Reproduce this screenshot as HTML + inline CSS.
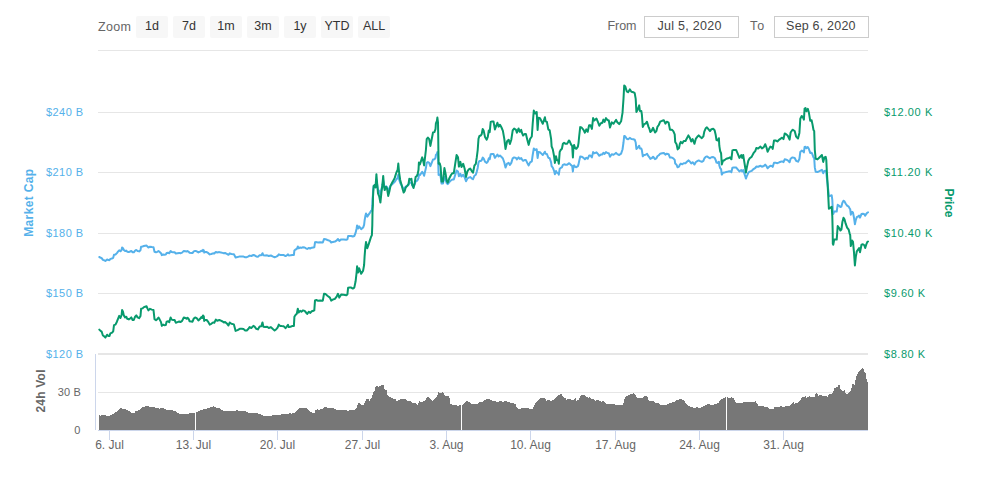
<!DOCTYPE html>
<html><head><meta charset="utf-8"><style>
html,body{margin:0;padding:0;background:#fff;}
body{width:996px;height:479px;overflow:hidden;}
svg{display:block;font-family:"Liberation Sans", sans-serif;}
</style></head><body>
<svg width="996" height="479" viewBox="0 0 996 479">
<rect width="996" height="479" fill="#fff"/>
<rect x="98" y="50" width="770" height="1" fill="#e6e6e6"/>
<text x="98" y="30.9" font-size="12.5" fill="#666" text-anchor="start" font-weight="normal" textLength="33" lengthAdjust="spacing">Zoom</text>
<rect x="136" y="16" width="32" height="22" rx="2" fill="#f7f7f7"/>
<text x="152" y="30" font-size="12.5" fill="#333" text-anchor="middle" font-weight="normal">1d</text>
<rect x="173" y="16" width="32" height="22" rx="2" fill="#f7f7f7"/>
<text x="189" y="30" font-size="12.5" fill="#333" text-anchor="middle" font-weight="normal">7d</text>
<rect x="210" y="16" width="32" height="22" rx="2" fill="#f7f7f7"/>
<text x="226" y="30" font-size="12.5" fill="#333" text-anchor="middle" font-weight="normal">1m</text>
<rect x="247" y="16" width="32" height="22" rx="2" fill="#f7f7f7"/>
<text x="263" y="30" font-size="12.5" fill="#333" text-anchor="middle" font-weight="normal">3m</text>
<rect x="284" y="16" width="32" height="22" rx="2" fill="#f7f7f7"/>
<text x="300" y="30" font-size="12.5" fill="#333" text-anchor="middle" font-weight="normal">1y</text>
<rect x="321" y="16" width="32" height="22" rx="2" fill="#f7f7f7"/>
<text x="337" y="30" font-size="12.5" fill="#333" text-anchor="middle" font-weight="normal">YTD</text>
<rect x="358" y="16" width="32" height="22" rx="2" fill="#f7f7f7"/>
<text x="374" y="30" font-size="12.5" fill="#333" text-anchor="middle" font-weight="normal">ALL</text>
<text x="607.6" y="29.8" font-size="12.5" fill="#666" text-anchor="start" font-weight="normal" textLength="28.8" lengthAdjust="spacing">From</text>
<rect x="644.5" y="16.5" width="94" height="21" fill="#fff" stroke="#cccccc" stroke-width="1"/>
<text x="657.5" y="29.7" font-size="12.5" fill="#444" text-anchor="start" font-weight="normal" textLength="64" lengthAdjust="spacing">Jul 5, 2020</text>
<text x="750.1" y="29.8" font-size="12.5" fill="#666" text-anchor="start" font-weight="normal" textLength="14.1" lengthAdjust="spacing">To</text>
<rect x="774.5" y="16.5" width="94" height="21" fill="#fff" stroke="#cccccc" stroke-width="1"/>
<text x="786.1" y="29.7" font-size="12.5" fill="#444" text-anchor="start" font-weight="normal" textLength="69.4" lengthAdjust="spacing">Sep 6, 2020</text>
<rect x="98" y="112" width="770" height="1" fill="#e6e6e6"/>
<rect x="98" y="172" width="770" height="1" fill="#e6e6e6"/>
<rect x="98" y="233" width="770" height="1" fill="#e6e6e6"/>
<rect x="98" y="293" width="770" height="1" fill="#e6e6e6"/>
<rect x="98" y="353" width="770" height="1" fill="#e6e6e6"/>
<rect x="98" y="354" width="770" height="1" fill="#e6e6e6"/>
<rect x="98" y="392" width="770" height="1" fill="#e6e6e6"/>
<text x="83" y="116" font-size="11" fill="#55b1ea" text-anchor="end" font-weight="normal" textLength="37" lengthAdjust="spacing">$240 B</text>
<text x="83" y="176" font-size="11" fill="#55b1ea" text-anchor="end" font-weight="normal" textLength="37" lengthAdjust="spacing">$210 B</text>
<text x="83" y="237" font-size="11" fill="#55b1ea" text-anchor="end" font-weight="normal" textLength="37" lengthAdjust="spacing">$180 B</text>
<text x="83" y="297" font-size="11" fill="#55b1ea" text-anchor="end" font-weight="normal" textLength="37" lengthAdjust="spacing">$150 B</text>
<text x="83" y="357.6" font-size="11" fill="#55b1ea" text-anchor="end" font-weight="normal" textLength="37" lengthAdjust="spacing">$120 B</text>
<text x="884" y="116" font-size="11" fill="#089a6d" text-anchor="start" font-weight="normal" textLength="48.3" lengthAdjust="spacing">$12.00 K</text>
<text x="884" y="176" font-size="11" fill="#089a6d" text-anchor="start" font-weight="normal" textLength="48.3" lengthAdjust="spacing">$11.20 K</text>
<text x="884" y="237" font-size="11" fill="#089a6d" text-anchor="start" font-weight="normal" textLength="48.3" lengthAdjust="spacing">$10.40 K</text>
<text x="884" y="297" font-size="11" fill="#089a6d" text-anchor="start" font-weight="normal" textLength="41.2" lengthAdjust="spacing">$9.60 K</text>
<text x="884" y="357.6" font-size="11" fill="#089a6d" text-anchor="start" font-weight="normal" textLength="41.2" lengthAdjust="spacing">$8.80 K</text>
<text x="80.8" y="396" font-size="11" fill="#666" text-anchor="end" font-weight="normal" textLength="23" lengthAdjust="spacing">30 B</text>
<text x="80.4" y="434" font-size="11" fill="#666" text-anchor="end" font-weight="normal">0</text>
<text transform="translate(32.6 202.8) rotate(-90)" font-size="12" font-weight="bold" fill="#55b1ea" text-anchor="middle" textLength="68" lengthAdjust="spacing">Market Cap</text>
<text transform="translate(945 203) rotate(90)" font-size="12" font-weight="bold" fill="#089a6d" text-anchor="middle" textLength="29" lengthAdjust="spacing">Price</text>
<text transform="translate(45 391) rotate(-90)" font-size="12" font-weight="bold" fill="#666" text-anchor="middle" textLength="43" lengthAdjust="spacing">24h Vol</text>
<path d="M99.0 430.0 L99.0 415.1 L100.5 415.6 L102.0 415.3 L108.1 415.6 L109.1 416.1 L111.1 414.6 L113.6 414.1 L114.6 412.6 L117.1 411.6 L120.1 408.1 L122.1 408.6 L125.1 408.6 L126.6 410.1 L128.6 410.6 L131.1 413.1 L134.2 413.1 L135.7 411.1 L139.2 410.1 L142.2 407.2 L145.2 406.5 L148.2 406.2 L150.2 407.0 L153.2 407.0 L156.2 407.9 L159.3 408.6 L161.3 408.3 L165.3 408.6 L166.3 410.1 L172.3 410.3 L175.3 411.3 L178.3 413.3 L179.3 414.1 L188.9 414.1 L189.9 413.1 L194.5 413.3 L196.2 412.1 L199.0 411.1 L201.0 410.1 L205.1 409.1 L209.1 408.1 L211.1 407.1 L213.6 406.3 L216.1 407.6 L220.1 408.3 L222.1 410.1 L224.6 411.1 L235.2 410.6 L237.2 410.1 L239.7 411.1 L246.2 411.3 L248.2 413.1 L257.3 413.3 L260.3 414.1 L264.3 416.3 L267.3 415.6 L269.3 416.3 L271.3 415.6 L273.3 415.3 L280.4 414.6 L282.4 414.1 L285.0 414.1 L289.0 413.6 L290.0 412.9 L291.5 413.6 L292.5 413.1 L295.0 412.6 L299.1 408.3 L306.6 408.3 L308.6 409.9 L312.1 412.9 L314.6 413.1 L315.6 410.1 L317.1 409.3 L318.6 409.9 L320.6 409.3 L322.7 409.1 L324.7 407.1 L326.2 406.3 L327.2 408.1 L334.2 408.3 L336.2 409.9 L346.2 410.1 L348.3 411.1 L350.3 410.1 L354.3 410.1 L356.8 408.1 L357.8 403.6 L359.3 402.3 L361.3 404.6 L363.3 405.1 L365.3 401.1 L366.8 399.1 L368.3 398.1 L369.3 401.1 L371.3 398.1 L372.9 393.6 L374.9 390.0 L375.9 385.5 L376.9 385.5 L378.4 387.0 L379.9 386.0 L381.5 385.0 L383.5 385.0 L384.2 389.1 L386.5 390.1 L387.0 395.1 L389.0 396.6 L392.0 398.3 L395.6 399.3 L396.6 400.9 L398.1 400.3 L401.6 399.1 L403.6 399.3 L406.1 399.1 L407.1 401.3 L410.1 401.1 L411.1 402.1 L416.1 403.6 L417.7 405.1 L419.2 401.3 L421.2 402.1 L424.2 401.3 L427.2 397.3 L429.7 397.6 L432.2 401.1 L434.2 399.1 L437.2 396.3 L438.2 392.3 L440.2 393.1 L442.8 392.3 L445.3 395.6 L449.3 396.6 L450.3 404.1 L454.3 405.1 L456.3 405.1 L457.8 406.1 L460.3 405.1 L462.3 404.9 L465.3 402.1 L466.8 401.3 L468.9 401.6 L470.4 403.1 L472.4 404.1 L476.4 404.1 L477.9 403.3 L480.0 401.1 L481.0 402.3 L483.0 401.6 L484.5 400.1 L486.5 399.1 L489.6 399.3 L491.6 400.1 L493.1 401.6 L495.1 401.1 L497.1 401.9 L500.1 401.3 L503.6 401.6 L506.1 401.3 L509.1 402.3 L512.1 403.6 L513.7 403.1 L515.7 404.6 L517.2 408.1 L518.7 409.1 L521.2 408.3 L527.2 408.3 L528.2 407.1 L529.2 409.1 L532.7 409.1 L534.7 404.1 L537.2 401.1 L540.3 398.1 L543.3 398.3 L545.3 398.1 L546.3 401.1 L548.3 400.1 L551.3 401.1 L553.3 400.1 L555.3 399.1 L555.8 397.1 L558.3 395.6 L561.3 394.1 L562.9 396.6 L565.4 398.1 L566.6 400.1 L567.9 399.1 L570.9 399.3 L572.9 400.1 L574.5 399.1 L575.5 398.1 L576.5 401.1 L578.5 399.6 L580.0 396.6 L581.5 395.3 L584.6 395.3 L586.6 396.6 L588.6 398.1 L590.1 397.1 L591.6 399.6 L593.6 399.1 L595.6 400.6 L597.6 400.1 L599.1 400.6 L601.1 401.6 L604.1 401.1 L605.1 402.6 L607.1 404.1 L614.2 404.1 L615.7 405.1 L622.7 405.1 L623.7 402.6 L624.7 398.1 L625.7 396.3 L628.2 395.6 L631.2 393.9 L634.3 393.3 L635.3 395.1 L636.8 398.1 L639.3 397.6 L642.3 398.3 L644.3 396.3 L647.3 396.3 L648.3 400.1 L650.3 401.1 L653.3 400.6 L655.3 402.6 L658.4 403.3 L660.9 405.1 L666.4 405.1 L667.9 404.1 L670.5 403.1 L672.5 402.1 L674.5 402.1 L677.0 400.1 L680.6 399.1 L683.6 400.1 L685.1 402.3 L688.6 405.6 L691.6 407.3 L695.1 407.9 L696.6 407.1 L700.1 408.1 L702.1 407.1 L705.2 405.1 L708.7 404.1 L712.2 404.9 L715.2 404.1 L718.2 403.3 L719.7 400.6 L723.2 398.1 L725.2 397.3 L727.2 397.3 L730.3 398.1 L731.8 397.3 L733.8 398.6 L735.3 402.1 L737.3 403.1 L742.3 403.1 L744.3 402.1 L750.3 401.6 L753.4 402.3 L755.4 401.3 L756.9 403.1 L758.9 406.1 L764.2 406.3 L765.0 407.1 L768.4 407.4 L770.0 409.1 L773.8 409.1 L775.0 406.3 L776.3 406.9 L780.0 406.6 L781.3 406.1 L783.4 406.9 L785.1 406.3 L789.6 406.1 L791.3 404.2 L793.4 402.1 L794.2 403.8 L795.5 403.2 L797.6 403.0 L799.7 400.9 L801.3 398.5 L803.0 396.3 L804.3 397.5 L805.5 396.3 L806.3 398.0 L808.0 397.1 L809.7 396.3 L810.9 397.1 L812.2 396.7 L815.1 397.1 L815.5 394.2 L816.8 393.2 L817.6 393.8 L818.0 395.9 L819.3 395.2 L821.8 395.4 L823.9 396.3 L826.8 396.3 L827.2 398.8 L828.1 395.0 L829.7 394.2 L831.7 393.8 L833.3 391.3 L834.2 388.4 L836.3 387.1 L837.9 386.7 L838.4 385.1 L839.6 385.1 L840.0 390.1 L841.0 388.4 L841.7 390.9 L843.4 391.3 L844.4 390.1 L845.0 392.2 L846.7 393.8 L848.0 393.4 L850.0 391.3 L851.3 389.6 L852.1 384.2 L853.8 384.2 L854.6 385.1 L855.5 380.0 L856.3 376.7 L857.6 374.2 L858.8 371.7 L860.9 369.2 L862.6 367.9 L863.8 370.0 L864.7 372.5 L865.7 373.4 L866.3 378.0 L867.2 381.7 L868.0 382.1 L868.0 430.0 Z" fill="#777777" shape-rendering="crispEdges"/>
<rect x="195" y="394" width="1" height="36" fill="#fff"/>
<rect x="461" y="394" width="1" height="36" fill="#fff"/>
<rect x="726" y="394" width="1" height="36" fill="#fff"/>
<rect x="95" y="354" width="1" height="76" fill="#ccd6eb"/>
<rect x="98" y="430" width="770" height="1" fill="#ccd6eb"/>
<rect x="109" y="431" width="1" height="9" fill="#ccd6eb"/>
<text x="109.5" y="449.1" font-size="12" fill="#666" text-anchor="middle" font-weight="normal">6. Jul</text>
<rect x="193" y="431" width="1" height="9" fill="#ccd6eb"/>
<text x="193.5" y="449.1" font-size="12" fill="#666" text-anchor="middle" font-weight="normal">13. Jul</text>
<rect x="277" y="431" width="1" height="9" fill="#ccd6eb"/>
<text x="277.5" y="449.1" font-size="12" fill="#666" text-anchor="middle" font-weight="normal">20. Jul</text>
<rect x="362" y="431" width="1" height="9" fill="#ccd6eb"/>
<text x="362.5" y="449.1" font-size="12" fill="#666" text-anchor="middle" font-weight="normal">27. Jul</text>
<rect x="446" y="431" width="1" height="9" fill="#ccd6eb"/>
<text x="446.5" y="449.1" font-size="12" fill="#666" text-anchor="middle" font-weight="normal">3. Aug</text>
<rect x="530" y="431" width="1" height="9" fill="#ccd6eb"/>
<text x="530.5" y="449.1" font-size="12" fill="#666" text-anchor="middle" font-weight="normal">10. Aug</text>
<rect x="615" y="431" width="1" height="9" fill="#ccd6eb"/>
<text x="615.5" y="449.1" font-size="12" fill="#666" text-anchor="middle" font-weight="normal">17. Aug</text>
<rect x="699" y="431" width="1" height="9" fill="#ccd6eb"/>
<text x="699.5" y="449.1" font-size="12" fill="#666" text-anchor="middle" font-weight="normal">24. Aug</text>
<rect x="783" y="431" width="1" height="9" fill="#ccd6eb"/>
<text x="783.5" y="449.1" font-size="12" fill="#666" text-anchor="middle" font-weight="normal">31. Aug</text>
<path d="M99.3 257.0 L100.8 257.8 L101.7 258.1 L102.9 259.9 L104.2 260.3 L105.4 261.0 L107.1 259.5 L108.4 260.1 L109.4 260.2 L110.4 258.9 L112.1 258.5 L113.2 257.8 L114.0 254.8 L115.5 254.5 L116.9 253.1 L118.0 251.7 L119.2 250.3 L120.5 251.3 L121.6 249.8 L122.1 247.4 L123.0 248.2 L123.8 250.0 L125.1 251.0 L126.3 250.6 L127.2 251.7 L128.8 252.0 L130.1 251.5 L131.3 251.0 L132.6 252.3 L133.8 252.3 L135.1 250.6 L136.3 250.0 L137.6 251.0 L139.1 251.4 L140.5 250.2 L141.1 246.7 L142.6 246.5 L143.9 245.9 L145.1 245.7 L146.6 245.5 L147.4 246.5 L148.4 247.5 L150.0 246.7 L151.8 247.1 L153.5 247.3 L154.5 251.8 L156.0 252.3 L157.2 251.8 L158.5 251.0 L159.7 252.0 L161.0 253.2 L161.8 255.1 L163.1 254.5 L164.3 254.8 L165.8 254.6 L166.6 253.0 L168.1 252.8 L169.3 253.2 L170.6 251.0 L171.7 252.0 L173.1 252.2 L174.6 252.2 L175.8 253.5 L177.5 253.2 L179.2 252.9 L180.4 253.2 L182.1 252.6 L183.8 250.9 L185.4 251.2 L186.7 251.6 L187.5 251.0 L188.8 251.8 L189.6 252.8 L191.3 252.9 L192.5 253.0 L193.8 251.4 L195.1 250.9 L196.7 251.3 L198.4 252.4 L200.1 251.6 L201.3 250.7 L202.2 251.2 L203.0 249.9 L203.8 250.3 L204.2 252.6 L205.1 252.1 L206.7 252.1 L208.4 253.2 L209.7 254.4 L211.3 254.0 L213.0 253.3 L214.3 253.5 L215.8 251.9 L217.2 252.5 L219.3 252.1 L220.9 252.5 L222.6 252.9 L223.9 253.3 L225.1 253.0 L226.8 253.8 L228.5 254.8 L229.7 253.3 L231.4 254.0 L233.9 254.3 L234.7 255.8 L235.6 257.5 L237.6 257.1 L239.7 256.4 L241.8 256.4 L243.5 256.6 L245.2 257.2 L246.8 257.2 L248.5 256.4 L249.6 255.6 L251.3 256.0 L253.4 255.0 L254.6 255.3 L256.3 256.4 L257.9 256.7 L259.6 255.3 L261.3 255.2 L262.5 253.2 L263.4 255.3 L265.0 255.4 L267.1 255.3 L268.8 256.0 L270.9 255.5 L272.6 256.4 L274.6 257.2 L276.3 256.6 L277.6 255.8 L278.8 254.3 L280.1 254.9 L281.7 255.0 L283.8 255.1 L285.5 256.1 L286.8 255.3 L288.0 254.4 L288.8 255.5 L290.5 255.3 L292.6 254.9 L293.9 254.9 L294.4 250.4 L295.5 249.5 L296.8 249.0 L297.8 246.5 L298.6 248.3 L300.1 247.5 L301.4 247.9 L303.0 247.3 L304.7 247.5 L306.0 248.3 L307.2 249.0 L308.9 247.9 L310.1 248.5 L311.8 247.7 L313.5 247.4 L314.3 247.3 L315.0 242.3 L316.4 242.1 L318.1 242.5 L320.2 242.3 L322.8 242.5 L324.0 239.1 L325.5 239.2 L327.4 240.0 L329.9 240.9 L331.2 242.5 L333.0 241.9 L334.9 241.6 L336.8 240.3 L338.0 239.0 L339.3 240.9 L341.2 239.4 L343.7 239.5 L346.2 239.8 L347.4 239.4 L348.1 236.1 L349.9 236.0 L351.2 236.0 L352.8 236.5 L354.3 236.0 L355.6 232.9 L356.6 228.5 L357.1 225.5 L358.1 228.5 L359.1 226.4 L361.2 229.2 L363.1 227.6 L364.1 224.8 L364.6 220.5 L365.3 216.3 L366.0 213.5 L367.3 216.6 L368.8 214.4 L370.0 212.6 L371.0 211.0 L371.9 210.1 L372.3 205.2 L372.5 199.0 L372.9 195.3 L373.0 191.2 L373.7 185.9 L374.7 185.4 L375.5 186.7 L376.4 180.1 L377.2 185.0 L378.0 189.6 L379.3 191.2 L380.4 194.1 L381.4 189.2 L382.4 185.4 L383.2 181.0 L384.0 185.9 L384.7 187.9 L386.0 186.3 L387.0 187.1 L388.2 190.8 L389.3 188.7 L390.5 185.9 L392.2 184.2 L393.5 183.1 L394.7 181.9 L396.4 179.3 L397.6 178.0 L398.3 174.8 L399.1 179.2 L400.2 182.9 L401.4 185.0 L402.7 187.5 L403.7 189.1 L404.7 188.3 L405.7 186.6 L407.2 185.8 L408.5 185.0 L409.3 182.3 L410.6 182.7 L411.4 182.3 L412.3 185.4 L413.5 186.8 L414.8 184.1 L415.6 181.5 L416.9 180.9 L417.7 179.9 L418.5 178.0 L418.9 174.3 L419.9 175.2 L422.2 171.8 L423.2 173.4 L424.1 175.7 L425.9 168.1 L426.7 162.8 L427.9 162.0 L429.2 162.8 L430.4 166.1 L431.7 162.8 L433.0 159.5 L434.4 159.3 L435.5 157.9 L435.9 155.0 L436.9 153.8 L437.4 152.1 L438.0 154.6 L438.2 160.7 L438.4 168.1 L438.6 174.9 L439.7 174.6 L440.6 176.3 L441.6 183.6 L443.0 183.6 L444.4 176.9 L445.5 179.5 L446.7 183.2 L447.7 184.1 L449.1 182.3 L451.0 180.4 L452.4 179.5 L453.8 179.5 L455.2 174.9 L456.6 170.5 L458.0 171.6 L458.9 176.2 L460.4 173.9 L461.5 176.5 L463.2 174.8 L464.6 177.2 L466.0 181.3 L467.4 178.5 L468.8 177.6 L470.2 177.1 L471.6 178.3 L473.0 179.2 L474.4 175.8 L475.8 174.8 L476.8 171.6 L477.7 168.0 L478.5 162.5 L479.4 161.1 L480.8 160.9 L481.7 160.2 L482.7 157.6 L483.6 158.4 L485.0 161.6 L486.7 162.9 L487.8 161.6 L488.8 158.3 L489.7 159.2 L490.7 154.2 L492.1 153.9 L493.5 153.9 L494.9 157.8 L496.3 156.0 L497.4 154.6 L498.6 156.5 L500.0 155.5 L501.5 156.9 L502.9 158.5 L504.3 162.5 L505.5 167.5 L507.1 163.6 L508.7 162.9 L509.9 165.0 L511.3 162.9 L512.7 158.3 L514.1 157.4 L516.0 158.0 L516.9 159.4 L518.6 157.4 L519.8 159.0 L521.2 158.0 L522.1 159.7 L523.1 160.8 L524.5 160.1 L525.9 160.1 L527.3 162.9 L528.7 165.4 L530.1 162.4 L531.8 161.3 L532.7 155.0 L533.8 148.5 L535.3 149.9 L536.7 149.2 L537.6 158.0 L538.5 152.0 L540.0 152.2 L541.4 153.6 L542.8 155.0 L544.9 151.7 L545.6 153.8 L546.9 154.0 L548.3 157.7 L549.7 158.2 L551.1 162.4 L551.6 166.1 L552.8 167.6 L554.1 171.0 L554.9 174.2 L556.0 171.0 L556.9 172.8 L558.2 173.1 L558.8 174.7 L559.7 168.8 L560.7 167.9 L561.9 167.3 L562.9 164.8 L564.1 164.3 L565.7 164.8 L566.9 164.8 L567.9 164.2 L568.9 163.2 L569.7 163.6 L571.0 165.1 L572.2 166.0 L572.9 171.5 L573.5 166.0 L574.1 165.4 L575.1 166.9 L576.3 167.2 L577.9 166.2 L578.5 164.4 L579.2 160.9 L580.2 156.5 L581.6 156.7 L583.5 157.9 L584.9 159.3 L586.3 157.7 L587.7 158.8 L589.1 155.6 L590.5 155.6 L591.9 157.4 L593.1 152.1 L594.3 153.3 L596.5 152.3 L598.1 154.2 L599.3 155.8 L600.9 154.6 L602.3 154.4 L603.4 152.8 L604.6 153.9 L606.0 152.1 L607.4 153.0 L608.8 153.2 L610.0 156.7 L611.7 154.2 L613.5 154.8 L615.0 153.7 L616.1 152.9 L617.3 154.1 L619.2 155.0 L621.1 153.6 L622.5 149.5 L623.5 142.5 L624.2 136.0 L625.3 136.5 L626.7 138.8 L628.1 139.3 L629.8 137.9 L631.4 139.0 L633.3 139.2 L634.7 139.7 L635.7 142.5 L636.4 148.9 L637.5 148.0 L639.2 145.7 L639.9 148.5 L641.3 148.5 L641.9 150.3 L642.8 156.3 L644.2 154.9 L645.6 154.7 L647.0 153.7 L648.5 156.3 L649.4 157.2 L650.3 158.9 L651.7 158.2 L653.1 156.7 L655.0 159.1 L656.4 158.4 L657.4 156.3 L658.8 155.3 L660.2 153.7 L662.1 153.3 L663.9 153.0 L665.4 154.6 L666.8 153.7 L668.6 154.2 L670.0 157.6 L671.9 157.6 L673.3 158.3 L674.7 159.9 L675.2 163.6 L676.6 164.8 L677.6 167.3 L679.0 166.6 L679.9 164.6 L680.8 163.6 L682.3 164.3 L683.7 163.2 L685.5 163.2 L686.9 161.8 L688.4 160.4 L689.8 161.5 L691.2 163.4 L692.6 162.2 L694.5 164.5 L695.9 162.0 L697.3 161.1 L698.7 160.4 L700.1 161.1 L701.8 161.8 L703.4 160.8 L704.3 158.5 L705.7 156.9 L706.9 156.4 L708.4 157.3 L710.0 158.3 L711.4 157.3 L713.2 157.1 L714.6 157.8 L715.6 159.9 L716.5 162.6 L717.9 162.9 L718.9 161.7 L719.3 165.4 L720.2 168.2 L721.1 169.1 L721.8 174.6 L723.0 172.8 L724.4 172.6 L726.3 171.9 L728.1 171.6 L730.0 171.2 L731.4 172.1 L732.4 167.7 L733.8 167.5 L736.1 167.5 L737.5 169.1 L739.4 171.4 L741.3 170.0 L742.2 171.4 L743.2 170.0 L744.1 172.8 L745.2 176.1 L745.9 178.6 L746.7 176.4 L747.3 175.1 L748.3 172.8 L749.7 171.6 L751.6 170.9 L753.5 169.1 L755.4 167.9 L756.3 166.5 L758.2 166.7 L760.5 165.8 L761.9 166.7 L763.8 166.0 L765.2 164.6 L766.5 166.2 L767.6 168.3 L769.0 166.9 L770.4 165.8 L771.8 166.0 L772.7 166.9 L774.0 162.8 L775.6 162.8 L777.4 163.2 L779.3 162.3 L780.7 161.8 L782.1 161.4 L783.5 162.1 L784.7 159.3 L786.4 159.7 L787.8 160.4 L789.6 162.3 L790.6 158.8 L792.5 157.4 L794.7 158.0 L796.1 160.8 L798.0 161.7 L799.4 159.0 L800.3 152.0 L801.7 150.6 L802.7 151.1 L803.9 152.4 L804.6 146.9 L805.5 146.7 L806.4 148.3 L807.8 147.1 L808.8 148.7 L810.2 152.9 L811.6 152.7 L812.5 154.7 L813.5 157.5 L814.2 158.0 L814.8 167.4 L815.7 171.7 L817.5 172.0 L819.4 171.1 L821.9 169.8 L823.2 173.2 L824.4 171.0 L825.7 170.7 L826.3 172.3 L826.9 178.5 L827.6 184.1 L828.2 189.6 L828.9 196.3 L830.4 195.8 L831.7 195.3 L832.3 199.9 L832.7 207.7 L832.8 213.6 L833.3 214.0 L834.2 211.5 L836.7 211.5 L837.7 204.8 L838.8 205.5 L840.4 207.0 L841.4 206.5 L842.4 202.8 L843.5 200.7 L844.5 201.4 L845.6 203.5 L847.1 205.6 L848.7 206.6 L849.7 208.6 L850.2 209.2 L850.8 214.7 L852.1 211.9 L853.0 212.6 L853.9 217.2 L854.9 224.2 L855.8 220.0 L856.8 217.2 L858.2 216.3 L859.1 215.6 L860.0 217.7 L861.5 214.0 L862.9 213.7 L864.3 214.2 L865.2 215.6 L866.2 214.0 L867.4 212.6 L868.0 212.4" fill="none" stroke="#55b1ea" stroke-width="2" stroke-linejoin="round" stroke-linecap="round"/>
<path d="M99.3 329.6 L100.8 331.1 L101.7 331.7 L102.9 335.5 L104.2 336.3 L105.4 337.6 L107.1 334.7 L108.4 335.9 L109.4 336.1 L110.4 333.4 L112.1 332.6 L113.2 331.3 L114.0 325.1 L115.5 324.6 L116.9 321.7 L118.0 318.8 L119.2 315.9 L120.5 318.0 L121.6 315.0 L122.1 310.0 L123.0 311.7 L123.8 315.4 L125.1 317.5 L126.3 316.7 L127.2 318.8 L128.8 319.4 L130.1 318.5 L131.3 317.4 L132.6 320.0 L133.8 320.0 L135.1 316.7 L136.3 315.4 L137.6 317.4 L139.1 318.2 L140.5 315.9 L141.1 308.8 L142.6 308.4 L143.9 307.1 L145.1 306.7 L146.6 306.3 L147.4 308.4 L148.4 310.4 L150.0 308.8 L151.8 309.6 L153.5 310.0 L154.5 319.2 L156.0 320.2 L157.2 319.2 L158.5 317.5 L159.7 319.6 L161.0 322.1 L161.8 325.9 L163.1 324.6 L164.3 325.2 L165.8 324.9 L166.6 321.7 L168.1 321.3 L169.3 322.1 L170.6 317.5 L171.7 319.6 L173.1 320.0 L174.6 320.0 L175.8 322.7 L177.5 322.1 L179.2 321.5 L180.4 322.1 L182.1 320.9 L183.8 317.5 L185.4 318.0 L186.7 318.8 L187.5 317.7 L188.8 319.2 L189.6 321.3 L191.3 321.5 L192.5 321.7 L193.8 318.5 L195.1 317.5 L196.7 318.2 L198.4 320.5 L200.1 318.8 L201.3 317.1 L202.2 318.0 L203.0 315.4 L203.8 316.3 L204.2 320.9 L205.1 320.0 L206.7 320.0 L208.4 322.1 L209.7 324.6 L211.3 323.8 L213.0 322.4 L214.3 322.7 L215.8 319.6 L217.2 320.7 L219.3 320.0 L220.9 320.7 L222.6 321.5 L223.9 322.5 L225.1 321.9 L226.8 323.4 L228.5 325.5 L229.7 322.5 L231.4 323.8 L233.9 324.4 L234.7 327.6 L235.6 330.9 L237.6 330.1 L239.7 328.8 L241.8 328.8 L243.5 329.1 L245.2 330.5 L246.8 330.5 L248.5 328.8 L249.6 327.1 L251.3 328.0 L253.4 325.9 L254.6 326.6 L256.3 328.8 L257.9 329.4 L259.6 326.6 L261.3 326.3 L262.5 322.4 L263.4 326.7 L265.0 326.9 L267.1 326.7 L268.8 328.0 L270.9 327.1 L272.6 328.8 L274.6 330.5 L276.3 329.2 L277.6 327.6 L278.8 324.6 L280.1 325.9 L281.7 326.1 L283.8 326.3 L285.5 328.2 L286.8 326.6 L288.0 324.9 L288.8 327.1 L290.5 326.7 L292.6 325.9 L293.9 325.9 L294.4 316.7 L295.5 315.0 L296.8 313.8 L297.8 308.8 L298.6 312.5 L300.1 310.9 L301.4 311.7 L303.0 310.4 L304.7 310.9 L306.0 312.5 L307.2 314.0 L308.9 311.7 L310.1 312.9 L311.8 311.3 L313.5 310.7 L314.3 310.4 L315.0 300.4 L316.4 300.0 L318.1 300.8 L320.2 300.4 L322.8 300.7 L324.0 293.8 L325.5 294.1 L327.4 295.7 L329.9 297.6 L331.2 300.7 L333.0 299.5 L334.9 298.9 L336.8 296.3 L338.0 293.8 L339.3 297.6 L341.2 294.5 L343.7 294.8 L346.2 295.3 L347.4 294.5 L348.1 287.8 L349.9 287.6 L351.2 287.6 L352.8 288.6 L354.3 287.6 L355.6 281.3 L356.6 272.5 L357.1 266.3 L358.1 272.5 L359.1 268.2 L361.2 273.8 L363.1 270.7 L364.1 265.0 L364.6 256.3 L365.3 247.6 L366.0 242.0 L367.3 248.2 L368.8 243.9 L370.0 240.1 L371.0 237.0 L371.9 235.1 L372.3 225.1 L372.5 212.5 L372.9 205.0 L373.0 196.7 L373.7 185.9 L374.7 185.0 L375.5 187.5 L376.4 174.2 L377.2 184.2 L378.0 193.4 L379.3 196.7 L380.4 202.6 L381.4 192.6 L382.4 185.0 L383.2 175.9 L384.0 185.9 L384.7 190.1 L386.0 186.7 L387.0 188.4 L388.2 195.9 L389.3 191.7 L390.5 185.9 L392.2 182.5 L393.5 180.4 L394.7 177.9 L396.4 172.5 L397.6 170.0 L398.3 163.5 L399.1 172.5 L400.2 180.0 L401.4 184.2 L402.7 189.2 L403.7 192.6 L404.7 190.9 L405.7 187.5 L407.2 185.9 L408.5 184.2 L409.3 178.8 L410.6 179.6 L411.4 178.8 L412.3 185.0 L413.5 188.0 L414.8 182.5 L415.6 177.1 L416.9 175.9 L417.7 173.8 L418.5 170.0 L418.9 162.6 L419.9 164.4 L422.2 157.4 L423.2 160.7 L424.1 165.4 L425.9 150.0 L426.7 139.2 L427.9 137.6 L429.2 139.2 L430.4 145.9 L431.7 139.2 L433.0 132.5 L434.4 132.1 L435.5 129.2 L435.9 123.4 L436.9 120.9 L437.4 117.5 L438.0 122.5 L438.2 135.0 L438.4 150.0 L438.6 163.8 L439.7 163.3 L440.6 166.6 L441.6 181.6 L443.0 181.6 L444.4 168.0 L445.5 173.2 L446.7 180.7 L447.7 182.6 L449.1 178.8 L451.0 175.0 L452.4 173.2 L453.8 173.2 L455.2 163.8 L456.6 154.9 L458.0 157.2 L458.9 166.6 L460.4 161.9 L461.5 167.1 L463.2 163.8 L464.6 168.5 L466.0 176.9 L467.4 171.3 L468.8 169.4 L470.2 168.5 L471.6 170.8 L473.0 172.7 L474.4 165.7 L475.8 163.8 L476.8 157.2 L477.7 150.0 L478.5 138.8 L479.4 136.0 L480.8 135.5 L481.7 134.1 L482.7 128.9 L483.6 130.4 L485.0 136.9 L486.7 139.7 L487.8 136.9 L488.8 130.4 L489.7 132.2 L490.7 121.9 L492.1 121.4 L493.5 121.4 L494.9 129.4 L496.3 125.7 L497.4 122.8 L498.6 126.6 L500.0 124.7 L501.5 127.5 L502.9 130.8 L504.3 138.8 L505.5 149.0 L507.1 141.2 L508.7 139.7 L509.9 144.0 L511.3 139.7 L512.7 130.4 L514.1 128.5 L516.0 129.9 L516.9 132.7 L518.6 128.5 L519.8 131.8 L521.2 129.9 L522.1 133.2 L523.1 135.5 L524.5 134.1 L525.9 134.1 L527.3 139.7 L528.7 144.9 L530.1 138.8 L531.8 136.5 L532.7 123.8 L533.8 110.6 L535.3 113.5 L536.7 112.0 L537.6 129.9 L538.5 117.7 L540.0 118.1 L541.4 121.0 L542.8 123.8 L544.9 117.2 L545.6 121.4 L546.9 121.9 L548.3 129.4 L549.7 130.4 L551.1 138.8 L551.6 146.3 L552.8 149.4 L554.1 156.3 L554.9 162.9 L556.0 156.3 L556.9 160.0 L558.2 160.7 L558.8 163.8 L559.7 151.9 L560.7 150.0 L561.9 148.8 L562.9 143.8 L564.1 142.8 L565.7 143.8 L566.9 143.8 L567.9 142.5 L568.9 140.5 L569.7 141.3 L571.0 144.4 L572.2 146.3 L572.9 157.5 L573.5 146.3 L574.1 145.0 L575.1 148.1 L576.3 148.8 L577.9 146.6 L578.5 143.1 L579.2 136.0 L580.2 127.1 L581.6 127.5 L583.5 129.9 L584.9 132.7 L586.3 129.4 L587.7 131.8 L589.1 125.2 L590.5 125.2 L591.9 128.9 L593.1 118.1 L594.3 120.5 L596.5 118.6 L598.1 122.4 L599.3 125.7 L600.9 123.3 L602.3 122.8 L603.4 119.6 L604.6 121.9 L606.0 118.1 L607.4 120.0 L608.8 120.5 L610.0 127.5 L611.7 122.4 L613.5 123.8 L615.0 121.5 L616.1 119.9 L617.3 122.3 L619.2 124.1 L621.1 121.3 L622.5 112.9 L623.5 98.8 L624.2 85.6 L625.3 86.6 L626.7 91.3 L628.1 92.2 L629.8 89.4 L631.4 91.7 L633.3 92.2 L634.7 93.1 L635.7 98.8 L636.4 111.9 L637.5 110.0 L639.2 105.4 L639.9 111.0 L641.3 111.0 L641.9 114.7 L642.8 126.9 L644.2 124.1 L645.6 123.6 L647.0 121.7 L648.5 126.9 L649.4 128.8 L650.3 132.1 L651.7 130.7 L653.1 127.8 L655.0 132.5 L656.4 131.1 L657.4 126.9 L658.8 125.0 L660.2 121.7 L662.1 120.8 L663.9 120.3 L665.4 123.6 L666.8 121.7 L668.6 122.7 L670.0 129.7 L671.9 129.7 L673.3 131.1 L674.7 134.4 L675.2 141.9 L676.6 144.3 L677.6 149.4 L679.0 148.0 L679.9 143.8 L680.8 141.9 L682.3 143.3 L683.7 141.0 L685.5 141.0 L686.9 138.2 L688.4 135.4 L689.8 137.7 L691.2 141.5 L692.6 139.1 L694.5 143.8 L695.9 138.6 L697.3 136.8 L698.7 135.4 L700.1 136.8 L701.8 138.2 L703.4 136.3 L704.3 131.6 L705.7 128.3 L706.9 127.4 L708.4 129.2 L710.0 131.1 L711.4 129.2 L713.2 128.8 L714.6 130.2 L715.6 134.4 L716.5 140.0 L717.9 140.5 L718.9 138.2 L719.3 145.7 L720.2 151.3 L721.1 153.2 L721.8 164.4 L723.0 160.7 L724.4 160.2 L726.3 158.8 L728.1 158.3 L730.0 157.4 L731.4 159.3 L732.4 150.4 L733.8 149.9 L736.1 149.9 L737.5 153.2 L739.4 157.9 L741.3 155.0 L742.2 157.9 L743.2 155.0 L744.1 160.7 L745.2 167.5 L745.9 172.5 L746.7 168.0 L747.3 165.4 L748.3 160.7 L749.7 158.3 L751.6 156.9 L753.5 153.2 L755.4 150.8 L756.3 148.0 L758.2 148.5 L760.5 146.6 L761.9 148.5 L763.8 147.1 L765.2 144.2 L766.5 147.5 L767.6 151.8 L769.0 148.9 L770.4 146.6 L771.8 147.1 L772.7 148.9 L774.0 140.5 L775.6 140.5 L777.4 141.4 L779.3 139.6 L780.7 138.6 L782.1 137.7 L783.5 139.1 L784.7 133.5 L786.4 134.4 L787.8 135.8 L789.6 139.6 L790.6 132.5 L792.5 129.7 L794.7 131.0 L796.1 136.6 L798.0 138.5 L799.4 132.9 L800.3 118.8 L801.7 116.0 L802.7 116.9 L803.9 119.7 L804.6 108.5 L805.5 108.0 L806.4 111.3 L807.8 108.9 L808.8 112.2 L810.2 120.7 L811.6 120.2 L812.5 124.4 L813.5 130.0 L814.2 131.0 L814.8 150.0 L815.7 158.8 L817.5 159.4 L819.4 157.5 L821.9 155.0 L823.2 161.9 L824.4 157.5 L825.7 156.9 L826.3 160.0 L826.9 172.6 L827.6 183.9 L828.2 195.1 L828.9 208.8 L830.4 207.7 L831.7 206.7 L832.3 216.1 L832.7 231.8 L832.8 243.8 L833.3 244.7 L834.2 239.6 L836.7 239.6 L837.7 226.0 L838.8 227.5 L840.4 230.5 L841.4 229.5 L842.4 222.0 L843.5 217.7 L844.5 219.2 L845.6 223.4 L847.1 227.6 L848.7 229.7 L849.7 233.8 L850.2 235.0 L850.8 246.1 L852.1 240.5 L853.0 241.9 L853.9 251.3 L854.9 265.4 L855.8 256.9 L856.8 251.3 L858.2 249.4 L859.1 248.0 L860.0 252.2 L861.5 244.7 L862.9 244.2 L864.3 245.2 L865.2 248.0 L866.2 244.7 L867.4 241.9 L868.0 241.5" fill="none" stroke="#089a6d" stroke-width="2" stroke-linejoin="round" stroke-linecap="round"/>
</svg>
</body></html>
